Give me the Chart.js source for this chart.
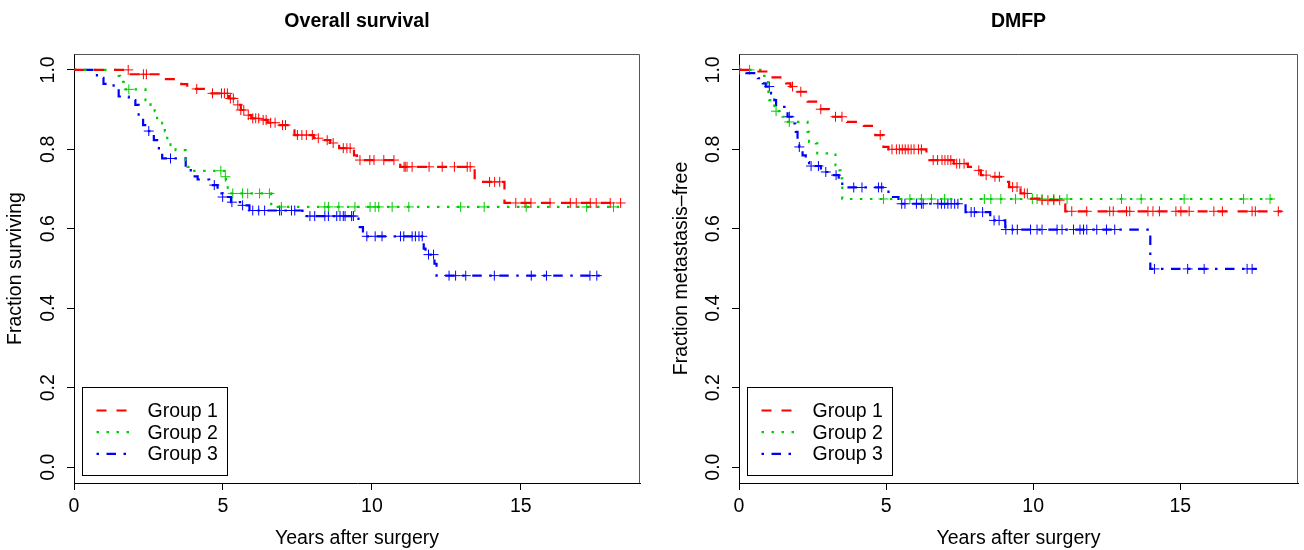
<!DOCTYPE html>
<html>
<head>
<meta charset="utf-8">
<script src="https://cdn.jsdelivr.net/npm/chart.js@4.4.1/dist/chart.umd.min.js"></script>
<style>
html, body { margin: 0; padding: 0; background: #fff; }
#wrap { position: relative; width: 1304px; height: 550px; }
canvas { position: absolute; top: 0; }
#osChart { left: 0; }
#dmChart { left: 652px; }
</style>
</head>
<body>
<div id="wrap">
<canvas id="osChart" width="652" height="550"></canvas>
<canvas id="dmChart" width="652" height="550"></canvas>
</div>
<script>
const FONT = "'Liberation Sans', Arial, Helvetica, sans-serif";

const groupNames = ['Group 1', 'Group 2', 'Group 3'];
const groupColors = ['#ff0000', '#00cd00', '#0000ff'];
const groupDash = [[10, 10], [2.5, 7.5], [2.5, 7.5, 9.5, 7.5]];

const xTicks = [0, 5, 10, 15];
const yTicks = [0, 0.2, 0.4, 0.6, 0.8, 1.0];

// Overall survival - step times / survival after step / censoring times
const os1Time = [0, 1.9, 3.05, 3.6, 3.8, 4.55, 5.2, 5.4, 5.6, 5.75, 5.95, 6.25, 6.5, 6.9, 7.25, 7.4, 8.05, 8.35, 8.6, 8.9, 9.4, 9.5, 10.95, 13.45, 14.45, 18.35];
const os1Surv = [1, 0.989, 0.977, 0.964, 0.952, 0.941, 0.928, 0.912, 0.899, 0.886, 0.878, 0.874, 0.867, 0.861, 0.848, 0.836, 0.828, 0.823, 0.816, 0.803, 0.785, 0.773, 0.756, 0.718, 0.665, 0.665];
const os1Cens = [1.82, 2.33, 2.43, 4.12, 4.65, 4.95, 5.05, 5.15, 5.25, 5.35, 5.5, 5.6, 5.7, 5.85, 6.0, 6.1, 6.2, 6.35, 6.45, 6.6, 6.75, 7.0, 7.1, 7.5, 7.65, 7.8, 8.0, 8.2, 8.5, 8.7, 9.04, 9.16, 9.27, 9.6, 9.93, 10.07, 10.4, 10.74, 11.08, 11.12, 11.18, 11.35, 11.92, 12.36, 12.77, 13.2, 13.3, 13.95, 14.12, 14.29, 14.83, 15.14, 15.34, 15.98, 16.66, 16.86, 17.33, 17.53, 18.0, 18.35];

const os2Time = [0, 1.5, 1.55, 1.67, 2.4, 2.57, 2.71, 2.79, 2.96, 3.05, 3.13, 3.24, 3.41, 3.75, 3.81, 3.98, 5.05, 5.1, 5.16, 6.62, 18.3];
const os2Surv = [1, 0.985, 0.970, 0.951, 0.924, 0.912, 0.896, 0.874, 0.865, 0.846, 0.823, 0.811, 0.798, 0.773, 0.756, 0.746, 0.731, 0.718, 0.689, 0.655, 0.655];
const os2Cens = [1.84, 4.93, 5.08, 5.33, 5.66, 5.83, 6.23, 6.56, 6.96, 8.42, 8.54, 8.89, 9.43, 9.94, 10.11, 10.23, 10.68, 11.24, 12.98, 13.77, 15.18, 17.21, 18.11];

const os3Time = [0, 0.77, 0.99, 1.33, 1.5, 1.84, 2.06, 2.17, 2.32, 2.45, 2.68, 2.85, 2.96, 3.75, 3.92, 4.15, 4.54, 4.82, 4.99, 5.27, 5.66, 5.89, 7.67, 9.55, 9.7, 11.74, 11.8, 12.1, 12.17, 17.85];
const os3Surv = [1, 0.980, 0.965, 0.954, 0.933, 0.924, 0.912, 0.882, 0.861, 0.846, 0.823, 0.798, 0.777, 0.756, 0.732, 0.724, 0.710, 0.689, 0.680, 0.667, 0.659, 0.646, 0.632, 0.604, 0.581, 0.550, 0.535, 0.512, 0.482, 0.482];
const os3Cens = [2.51, 3.24, 4.71, 4.99, 5.3, 5.66, 6.0, 6.2, 6.4, 6.9, 6.96, 7.3, 7.41, 7.92, 8.08, 8.42, 8.54, 8.82, 8.93, 9.04, 9.1, 9.32, 9.38, 9.83, 10.11, 10.34, 10.96, 11.07, 11.35, 11.46, 11.58, 11.69, 11.9, 12.07, 12.59, 12.81, 13.15, 14.11, 15.35, 15.86, 17.32, 17.55];

// DMFP
const dm1Time = [0, 0.59, 1.09, 1.6, 1.75, 1.99, 2.33, 2.66, 3.06, 3.67, 4.24, 4.63, 4.91, 5.08, 6.37, 6.48, 7.3, 7.78, 8.06, 8.22, 8.56, 9.01, 9.18, 9.57, 9.9, 10.25, 11.09, 18.45];
const dm1Surv = [1, 0.996, 0.981, 0.966, 0.958, 0.945, 0.920, 0.901, 0.882, 0.869, 0.859, 0.836, 0.806, 0.800, 0.785, 0.773, 0.764, 0.756, 0.747, 0.735, 0.731, 0.718, 0.705, 0.689, 0.676, 0.672, 0.644, 0.644];
const dm1Cens = [0.02, 1.82, 2.1, 2.78, 3.28, 3.5, 4.8, 5.2, 5.35, 5.45, 5.55, 5.65, 5.75, 5.85, 5.95, 6.1, 6.2, 6.6, 6.75, 6.9, 7.0, 7.1, 7.2, 7.4, 7.5, 7.65, 8.15, 8.4, 8.7, 8.85, 9.3, 9.45, 9.7, 9.8, 10.3, 10.5, 10.7, 10.9, 11.31, 11.82, 12.6, 12.72, 13.17, 13.28, 13.9, 14.07, 14.29, 14.85, 15.02, 15.3, 16.14, 16.43, 17.44, 17.55, 18.33];

const dm2Time = [0, 0.81, 0.98, 1.0, 1.03, 1.2, 1.48, 1.6, 2.33, 2.38, 2.61, 2.66, 3.28, 3.38, 3.45, 3.51, 18.28];
const dm2Surv = [1, 0.985, 0.966, 0.941, 0.924, 0.896, 0.882, 0.869, 0.844, 0.819, 0.815, 0.790, 0.760, 0.747, 0.727, 0.675, 0.675];
const dm2Cens = [0.36, 1.26, 1.71, 4.91, 5.81, 6.2, 6.54, 6.99, 8.34, 8.56, 8.9, 9.4, 9.97, 10.13, 10.3, 10.7, 11.15, 13.0, 13.67, 15.13, 17.15, 18.05];

const dm3Time = [0, 0.25, 0.64, 0.81, 0.91, 1.09, 1.2, 1.26, 1.65, 1.8, 1.93, 1.99, 2.05, 2.16, 2.27, 2.38, 2.78, 2.89, 3.17, 3.39, 3.51, 5.08, 5.42, 7.7, 8.54, 9.05, 13.98, 17.6];
const dm3Surv = [1, 0.992, 0.979, 0.966, 0.958, 0.941, 0.924, 0.907, 0.882, 0.865, 0.844, 0.823, 0.806, 0.785, 0.768, 0.758, 0.752, 0.743, 0.735, 0.722, 0.704, 0.680, 0.663, 0.642, 0.621, 0.598, 0.499, 0.499];
const dm3Cens = [1.03, 1.71, 2.05, 2.45, 2.7, 2.95, 3.3, 3.9, 4.18, 4.74, 4.85, 5.53, 5.64, 6.03, 6.2, 6.26, 6.76, 6.88, 6.99, 7.1, 7.21, 7.33, 7.44, 7.89, 8.0, 8.28, 8.67, 8.84, 9.07, 9.29, 9.46, 9.91, 10.13, 10.3, 10.81, 10.98, 11.37, 11.59, 11.71, 11.82, 12.16, 12.49, 12.77, 14.12, 15.25, 15.81, 17.27, 17.44];

// value of the KM step curve at time t
function survAt(times, surv, t) {
    let v = surv[0];
    for (let i = 0; i < times.length; i++) {
        if (times[i] <= t) v = surv[i];
    }
    return v;
}

// R-like frame, title and legend
const kmDecor = {
    id: 'kmDecor',
    afterDatasetsDraw(chart, args, opts) {
        const { ctx, chartArea: a } = chart;
        ctx.save();
        // grey box on top / right
        ctx.strokeStyle = '#555';
        ctx.lineWidth = 1;
        ctx.beginPath();
        ctx.moveTo(Math.round(a.left) + 0.5, Math.round(a.top) + 0.5);
        ctx.lineTo(Math.round(a.right) - 0.5, Math.round(a.top) + 0.5);
        ctx.lineTo(Math.round(a.right) - 0.5, Math.round(a.bottom));
        ctx.stroke();

        // title
        ctx.fillStyle = '#000';
        ctx.font = 'bold 19.5px ' + FONT;
        ctx.textAlign = 'center';
        ctx.textBaseline = 'middle';
        ctx.fillText(opts.title, (a.left + a.right) / 2, 22);

        // legend
        const bx = Math.round(a.left + 7.7) + 0.5;
        const by = Math.round(a.bottom - 95.7) + 0.5;
        const bw = 145;
        const bh = 88;
        ctx.fillStyle = '#fff';
        ctx.fillRect(bx, by, bw, bh);
        ctx.strokeStyle = '#000';
        ctx.lineWidth = 1;
        ctx.strokeRect(bx, by, bw, bh);
        ctx.font = '19.5px ' + FONT;
        ctx.textAlign = 'left';
        for (let i = 0; i < groupNames.length; i++) {
            const ry = by + 23 + i * 21.7;
            ctx.strokeStyle = groupColors[i];
            ctx.lineWidth = 2.2;
            ctx.setLineDash(groupDash[i]);
            ctx.beginPath();
            ctx.moveTo(bx + 14, ry);
            ctx.lineTo(bx + 47, ry);
            ctx.stroke();
            ctx.setLineDash([]);
            ctx.fillStyle = '#000';
            ctx.fillText(groupNames[i], bx + 65, ry + 1);
        }
        ctx.restore();
    }
};

function makeKM(id, title, yTitle, groups, yAxisWidth, yTitlePad, rightPad) {
    const ctx = document.getElementById(id);
    const datasets = [];
    groups.forEach((g, i) => {
        datasets.push({
            label: groupNames[i],
            data: g.time.map((t, k) => ({ x: t, y: g.surv[k] })),
            showLine: true,
            stepped: true,
            borderColor: groupColors[i],
            borderWidth: 2.2,
            borderDash: groupDash[i],
            pointRadius: 0,
            pointHoverRadius: 0,
            fill: false
        });
    });
    groups.forEach((g, i) => {
        datasets.push({
            label: groupNames[i] + ' censored',
            data: g.cens.map(t => ({ x: t, y: survAt(g.time, g.surv, t) })),
            showLine: false,
            pointStyle: 'cross',
            pointRadius: 5,
            pointBorderWidth: 1,
            borderColor: groupColors[i],
            backgroundColor: groupColors[i]
        });
    });

    return new Chart(ctx, {
        type: 'scatter',
        data: { datasets: datasets },
        plugins: [kmDecor],
        options: {
            responsive: false,
            animation: false,
            devicePixelRatio: 1,
            layout: { padding: { top: 54, right: rightPad, left: 0, bottom: 0 } },
            scales: {
                x: {
                    type: 'linear',
                    min: 0,
                    max: 19,
                    afterBuildTicks: (scale) => { scale.ticks = xTicks.map(v => ({ value: v })); },
                    afterFit: (scale) => { scale.height = 67; },
                    ticks: {
                        color: '#000',
                        padding: 5,
                        maxRotation: 0,
                        font: { family: FONT, size: 19.5 },
                        callback: (v) => String(v)
                    },
                    grid: {
                        drawOnChartArea: false,
                        drawTicks: true,
                        tickLength: 7,
                        color: '#000'
                    },
                    border: { display: true, color: '#000', width: 1 },
                    title: {
                        display: true,
                        text: 'Years after surgery',
                        color: '#000',
                        font: { family: FONT, size: 19.5 },
                        padding: { top: 0, bottom: 0 }
                    }
                },
                y: {
                    type: 'linear',
                    min: -0.04,
                    max: 1.04,
                    afterBuildTicks: (scale) => { scale.ticks = yTicks.map(v => ({ value: v })); },
                    afterFit: (scale) => { scale.width = yAxisWidth; },
                    ticks: {
                        color: '#000',
                        minRotation: 90,
                        maxRotation: 90,
                        crossAlign: 'center',
                        padding: 5,
                        font: { family: FONT, size: 19.5 },
                        callback: (v) => v.toFixed(1)
                    },
                    grid: {
                        drawOnChartArea: false,
                        drawTicks: true,
                        tickLength: 7,
                        color: '#000'
                    },
                    border: { display: true, color: '#000', width: 1 },
                    title: {
                        display: true,
                        text: yTitle,
                        color: '#000',
                        font: { family: FONT, size: 19.5 },
                        padding: { top: yTitlePad, bottom: 0 }
                    }
                }
            },
            plugins: {
                legend: { display: false },
                tooltip: { enabled: false },
                title: { display: false },
                kmDecor: { title: title }
            }
        }
    });
}

makeKM('osChart', 'Overall survival', 'Fraction surviving', [
    { time: os1Time, surv: os1Surv, cens: os1Cens },
    { time: os2Time, surv: os2Surv, cens: os2Cens },
    { time: os3Time, surv: os3Surv, cens: os3Cens }
], 74, 4, 12);

makeKM('dmChart', 'DMFP', 'Fraction metastasis\u2013free', [
    { time: dm1Time, surv: dm1Surv, cens: dm1Cens },
    { time: dm2Time, surv: dm2Surv, cens: dm2Cens },
    { time: dm3Time, surv: dm3Surv, cens: dm3Cens }
], 87, 18, 1);
</script>
</body>
</html>
